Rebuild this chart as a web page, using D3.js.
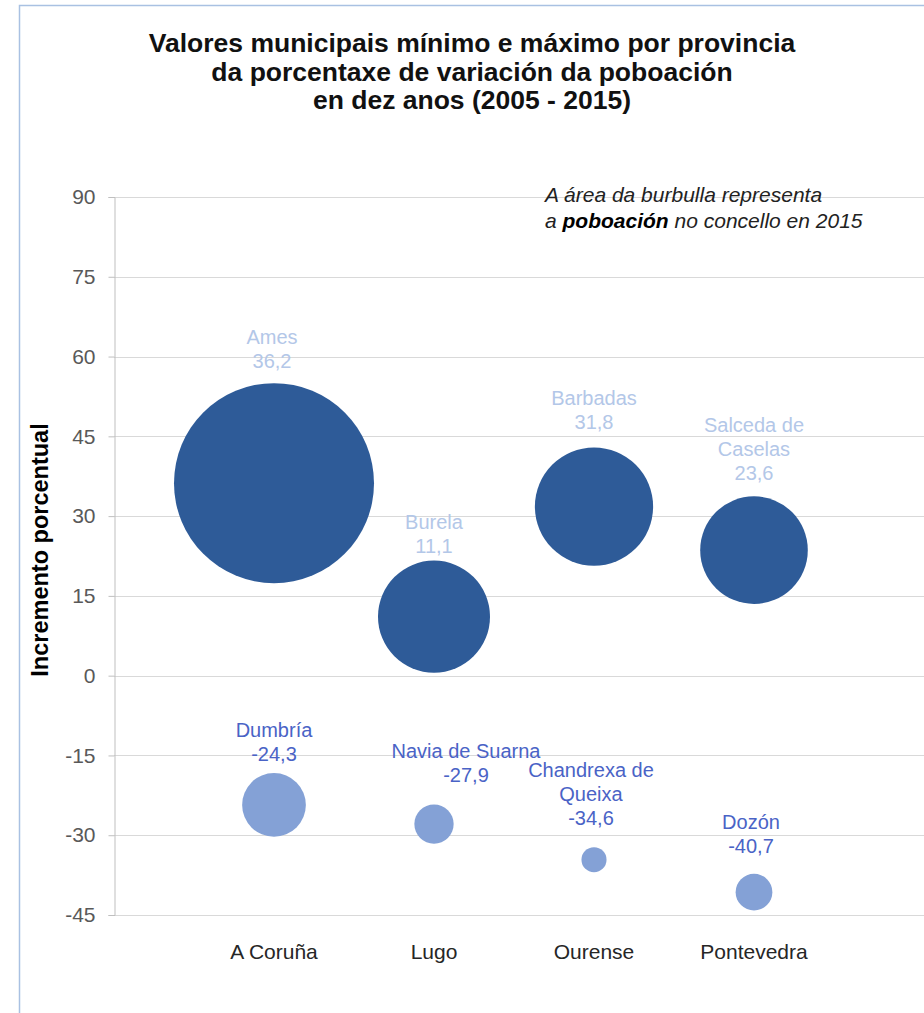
<!DOCTYPE html>
<html>
<head>
<meta charset="utf-8">
<script src="https://cdn.jsdelivr.net/npm/d3@7"></script>
<style>
  html, body { margin: 0; padding: 0; background: #fff; }
  svg { display: block; font-family: "Liberation Sans", Arial, sans-serif; }
</style>
</head>
<body>
<div id="chart"></div>
<script>
// categories on the x axis
const provinces = ["A Coruña", "Lugo", "Ourense", "Pontevedra"];

// municipality with the highest change in each province
const maxLabels = [["Ames"], ["Burela"], ["Barbadas"], ["Salceda de", "Caselas"]];
const maxValues = [36.2, 11.1, 31.8, 23.6];
const maxPop = [30544, 9582, 10674, 8836];

// municipality with the lowest change
const minLabels = [["Dumbría"], ["Navia de Suarna"], ["Chandrexa de", "Queixa"], ["Dozón"]];
const minValues = [-24.3, -27.9, -34.6, -40.7];
const minPop = [3100, 1180, 480, 1030];

const yTicks = [90, 75, 60, 45, 30, 15, 0, -15, -30, -45];

const titleLines = [
  "Valores municipais mínimo e máximo por provincia",
  "da porcentaxe de variación da poboación",
  "en dez anos (2005 - 2015)"
];

// label nudges (layout only)
const maxGap = [16, 9, 19, 17], maxDx = [-2, 0, 0, 0];
const minGap = [13, 23, 23, 22], minDx = [0, 32, -3, -3];

const W = 924, H = 1013;
const svg = d3.select("#chart").append("svg")
  .attr("width", W)
  .attr("height", H);

// frame
svg.append("path")
  .attr("d", `M19.5,${H} V5.5 H${W}`)
  .attr("fill", "none")
  .attr("stroke", "#a9c1e2")
  .attr("stroke-width", 1.5);

const x = d3.scaleLinear().domain([0, 5]).range([114, 914]);
const y = d3.scaleLinear().domain([-45, 90]).range([915, 197]);
const r = d3.scaleSqrt().domain([0, 30544]).range([0, 100]);
const fmt = v => d3.format(".1f")(v).replace(".", ",").replace("−", "-");

// gridlines
svg.append("g")
  .selectAll("line")
  .data(yTicks)
  .join("line")
    .attr("x1", 114)
    .attr("x2", W)
    .attr("y1", d => Math.round(y(d)) + 0.5)
    .attr("y2", d => Math.round(y(d)) + 0.5)
    .attr("stroke", "#d9d9d9");

const yAxis = svg.append("g")
  .attr("transform", "translate(114.5,0)")
  .call(d3.axisLeft(y)
    .tickValues(yTicks)
    .tickSize(6)
    .tickPadding(13)
    .tickFormat(d => String(d)));
yAxis.select(".domain").attr("stroke", "#bfbfbf");
yAxis.selectAll(".tick line").attr("stroke", "#bfbfbf");
yAxis.selectAll(".tick text")
  .style("font", "21px 'Liberation Sans', Arial, sans-serif")
  .attr("fill", "#595959");

// x category labels
svg.append("g")
  .selectAll("text")
  .data(provinces)
  .join("text")
    .attr("x", (d, i) => x(i + 1))
    .attr("y", 959)
    .attr("text-anchor", "middle")
    .style("font-size", "21px")
    .attr("fill", "#262626")
    .text(d => d);

// y axis title
svg.append("text")
  .attr("transform", "translate(48,550) rotate(-90)")
  .attr("text-anchor", "middle")
  .style("font-size", "23.5px")
  .style("font-weight", "bold")
  .attr("fill", "#000")
  .text("Incremento porcentual");

// title
svg.append("g")
  .selectAll("text")
  .data(titleLines)
  .join("text")
    .attr("x", 472)
    .attr("y", (d, i) => 52 + i * 28.5)
    .attr("text-anchor", "middle")
    .style("font-size", "26.5px")
    .style("font-weight", "bold")
    .attr("fill", "#111")
    .text(d => d);

// note
const note = svg.append("g")
  .style("font-size", "21px")
  .style("font-style", "italic")
  .attr("fill", "#222");
note.append("text").attr("x", 545).attr("y", 202).text("A área da burbulla representa");
const n2 = note.append("text").attr("x", 545).attr("y", 228);
n2.append("tspan").text("a ");
n2.append("tspan").style("font-weight", "bold").attr("fill", "#000").text("poboación");
n2.append("tspan").text("  no concello en 2015");

const maxData = maxValues.map((v, i) => ({i, v, pop: maxPop[i], lines: maxLabels[i], gap: maxGap[i], dx: maxDx[i]}));
const minData = minValues.map((v, i) => ({i, v, pop: minPop[i], lines: minLabels[i], gap: minGap[i], dx: minDx[i]}));

function drawSeries(data, fill, labelColor) {
  svg.append("g")
    .selectAll("circle")
    .data(data)
    .join("circle")
      .attr("cx", d => x(d.i + 1))
      .attr("cy", d => y(d.v))
      .attr("r", d => r(d.pop))
      .attr("fill", fill);

  const labels = svg.append("g")
    .selectAll("text")
    .data(data)
    .join("text")
      .attr("text-anchor", "middle")
      .style("font-size", "20px")
      .attr("fill", labelColor);

  labels.each(function(d) {
    const lines = d.lines.concat([fmt(d.v)]);
    const bottom = y(d.v) - r(d.pop) - d.gap + 1;
    const t = d3.select(this);
    lines.forEach((ln, k) => {
      t.append("tspan")
        .attr("x", x(d.i + 1) + d.dx)
        .attr("y", bottom - (lines.length - 1 - k) * 24)
        .text(ln);
    });
  });
}

drawSeries(maxData, "#2e5b98", "#b3c7e8");
drawSeries(minData, "#84a1d6", "#4a63c6");
</script>
</body>
</html>
